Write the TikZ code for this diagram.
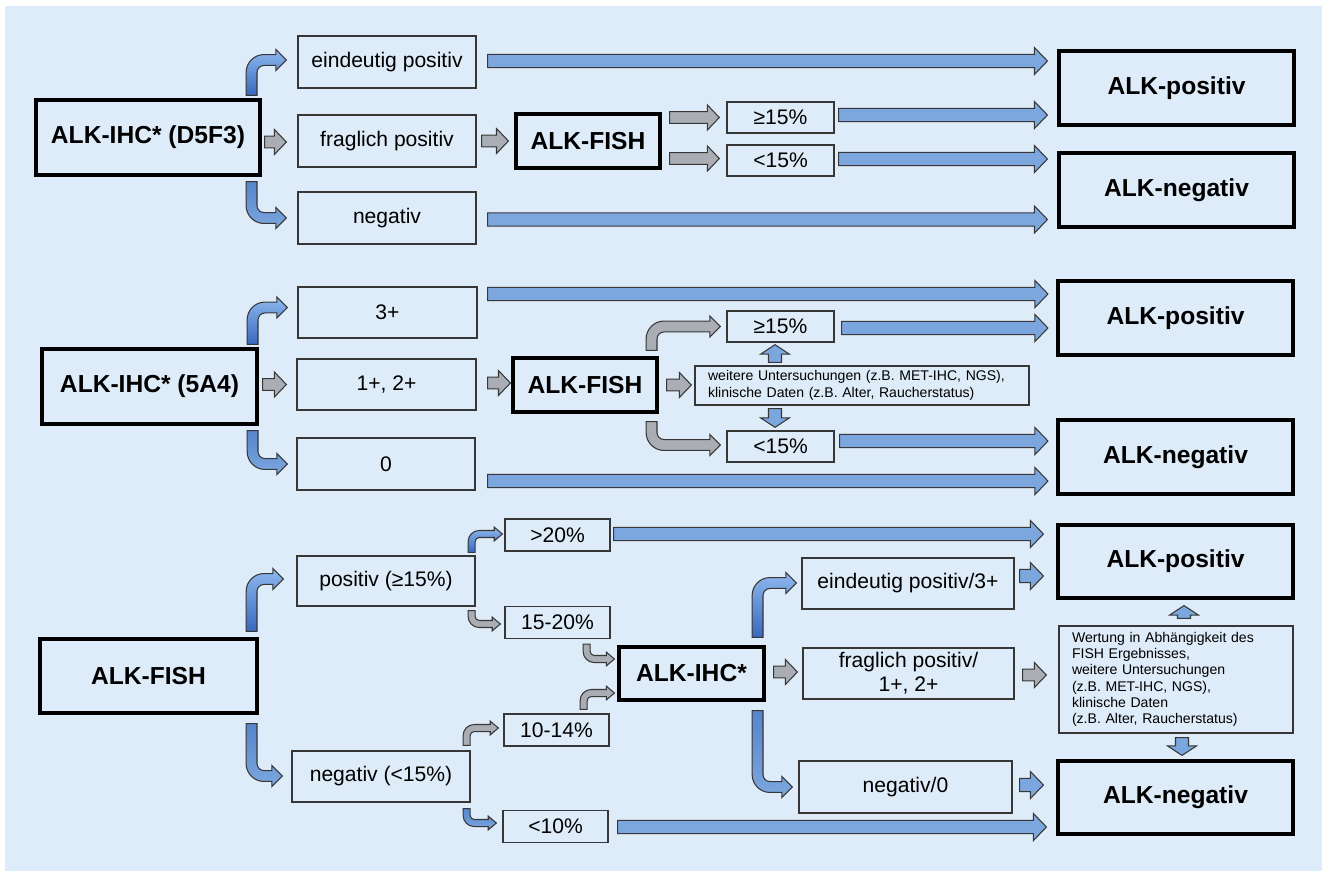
\documentclass[tikz,border=0pt]{standalone}
\usepackage{fontspec}
\setmainfont{Liberation Sans}
\usepackage{xcolor}
\usepackage{tikz}
\usetikzlibrary{calc}
\definecolor{panelBlue}{RGB}{222,235,248}
\definecolor{arrowBlue}{RGB}{124,167,222}
\definecolor{arrowLight}{RGB}{142,184,238}
\definecolor{arrowDark}{RGB}{56,104,190}
\definecolor{arrowGrey}{RGB}{170,174,180}
\definecolor{edgeGrey}{RGB}{55,55,55}

\tikzset{
  arrowdims/.code n args={5}{\def\ahs{#1}\def\ahh{#2}\def\ahl{#3}\def\ahr{#4}\def\ahR{#5}},
  plainbox/.style={draw=edgeGrey, line width=0.75pt, fill=panelBlue, inner sep=0pt,
    font=\fontsize{12}{13.7}\selectfont, align=center},
  resultbox/.style={plainbox, draw=black, line width=1.8pt, font=\fontsize{14}{16}\selectfont\bfseries},
  notebox/.style={plainbox, align=left, inner xsep=0.26cm, font=\fontsize{8}{9.3}\selectfont},
  blue arrow/.style={draw=edgeGrey, line width=0.6pt, fill=arrowBlue, arrowdims={3.8pt}{7.7pt}{7.4pt}{0pt}{0pt}},
  grey arrow/.style={draw=edgeGrey, line width=0.6pt, fill=arrowGrey, arrowdims={3.3pt}{7.1pt}{6.8pt}{0pt}{0pt}},
  vert arrow/.style={draw=edgeGrey, line width=0.6pt, fill=arrowBlue, arrowdims={3.7pt}{8.2pt}{5.4pt}{0pt}{0pt}},
  bend up/.style={draw=edgeGrey, line width=0.6pt, top color=arrowLight, bottom color=arrowDark},
  bend down/.style={draw=edgeGrey, line width=0.6pt, top color=arrowDark!55!arrowBlue, bottom color=arrowBlue},
  bend grey/.style={draw=edgeGrey, line width=0.6pt, fill=arrowGrey},
  big bend/.style={arrowdims={3.1pt}{6pt}{6pt}{4pt}{10.2pt}},
  small bend/.style={arrowdims={2pt}{3.9pt}{4.6pt}{2.3pt}{6.3pt}},
}

\newcommand{\blockarrow}[3][]{%
  \draw[#1] let \p1=#2, \p2=#3 in
    (\x1,\y1+\ahs) -- (\x2-\ahl,\y1+\ahs) -- (\x2-\ahl,\y1+\ahh) -- (\x2,\y1)
    -- (\x2-\ahl,\y1-\ahh) -- (\x2-\ahl,\y1-\ahs) -- (\x1,\y1-\ahs) -- cycle;}
\newcommand{\vblockarrow}[3][]{%
  \draw[#1] let \p1=#2, \p2=#3, \n1={sign(\y2-\y1)} in
    ({\x1+\ahs},\y1) -- ({\x1+\ahs},{\y2-(\n1)*\ahl}) -- ({\x1+\ahh},{\y2-(\n1)*\ahl}) -- (\x1,\y2)
    -- ({\x1-\ahh},{\y2-(\n1)*\ahl}) -- ({\x1-\ahs},{\y2-(\n1)*\ahl}) -- ({\x1-\ahs},\y1) -- cycle;}
\newcommand{\bendarrow}[3][]{%
  \draw[#1] let \p1=#2, \p2=#3, \n1={sign(\y2-\y1)} in
    ({\x1-\ahs},\y1) -- ({\x1-\ahs},{\y2+(\n1)*\ahs-(\n1)*\ahR})
    arc[start angle=180, end angle={180-(\n1)*90}, radius=\ahR]
    -- ({\x2-\ahl},{\y2+(\n1)*\ahs}) -- ({\x2-\ahl},{\y2+(\n1)*\ahh}) -- (\x2,\y2)
    -- ({\x2-\ahl},{\y2-(\n1)*\ahh}) -- ({\x2-\ahl},{\y2-(\n1)*\ahs})
    -- ({\x1+\ahs+\ahr},{\y2-(\n1)*\ahs})
    arc[start angle={180-(\n1)*90}, end angle=180, radius=\ahr]
    -- ({\x1+\ahs},\y1) -- cycle;}

\begin{document}
\begin{tikzpicture}[x=0.02cm, y=0.02cm]
\useasboundingbox (0,0) rectangle (1326,-877);
\fill[panelBlue] (5,-6) rectangle (1322,-871);

\begin{scope}
  \node[resultbox, minimum width=4.48cm, minimum height=1.5cm] (ihcA) at (148,-137.5) {ALK-IHC* (D5F3)};
  \node[plainbox, minimum width=3.56cm, minimum height=1.04cm] (epA) at (387,-62) {eindeutig positiv};
  \node[plainbox, minimum width=3.56cm, minimum height=1.04cm] (fpA) at (387,-141) {fraglich positiv};
  \node[plainbox, minimum width=3.56cm, minimum height=1.04cm] (ngA) at (387,-218) {negativ};
  \node[resultbox, minimum width=2.88cm, minimum height=1.08cm] (fishA) at (588,-141) {ALK-FISH};
  \node[plainbox, minimum width=2.14cm, minimum height=0.62cm] (hiA) at (780.5,-117.5) {≥15\%};
  \node[plainbox, minimum width=2.14cm, minimum height=0.62cm] (loA) at (780.5,-160.5) {<15\%};
  \node[resultbox, minimum width=4.7cm, minimum height=1.48cm] (posA) at (1176.5,-88) {ALK-positiv};
  \node[resultbox, minimum width=4.7cm, minimum height=1.48cm] (negA) at (1176.5,-190) {ALK-negativ};

  \bendarrow[bend up, big bend]{($(ihcA.north east)+(-10,3)$)}{($(epA.west)+(-11,2)$)}
  \bendarrow[bend down, big bend]{($(ihcA.south east)+(-10,-5)$)}{($(ngA.west)+(-11,0)$)}
  \blockarrow[grey arrow]{($(ihcA.east |- fpA.west)+(3,-1)$)}{($(fpA.west)+(-11,0)$)}
  \blockarrow[grey arrow]{($(fpA.east)+(5,0)$)}{($(fishA.west)+(-6,0)$)}
  \blockarrow[grey arrow]{($(fishA.east |- hiA.west)+(8,0)$)}{($(hiA.west)+(-7,0)$)}
  \blockarrow[grey arrow]{($(fishA.east |- loA.west)+(8,2)$)}{($(loA.west)+(-7,0)$)}
  \blockarrow[blue arrow]{($(epA.east)+(11,1)$)}{($(posA.west)+(-10,0)$)}
  \blockarrow[blue arrow]{($(hiA.east)+(4,2.5)$)}{($(posA.west)+(-10,0)$)}
  \blockarrow[blue arrow]{($(loA.east)+(4,1.5)$)}{($(negA.west)+(-10,0)$)}
  \blockarrow[blue arrow]{($(ngA.east)+(11,-1.5)$)}{($(negA.west)+(-10,0)$)}
\end{scope}

\begin{scope}
  \node[resultbox, minimum width=4.3cm, minimum height=1.5cm] (ihcB) at (149.5,-386.5) {ALK-IHC* (5A4)};
  \node[plainbox, minimum width=3.58cm, minimum height=1.02cm] (tpB) at (387.5,-312.5) {3+};
  \node[plainbox, minimum width=3.58cm, minimum height=1.02cm] (mpB) at (386.5,-384.5) {1+, 2+};
  \node[plainbox, minimum width=3.56cm, minimum height=1.04cm] (zB) at (386,-464) {0};
  \node[resultbox, minimum width=2.88cm, minimum height=1.08cm] (fishB) at (585,-385) {ALK-FISH};
  \node[plainbox, minimum width=2.14cm, minimum height=0.62cm] (hiB) at (780.5,-326.5) {≥15\%};
  \node[notebox, text width=6.16cm, minimum height=0.78cm] (furtherB) at (862,-385.5)
    {weitere Untersuchungen (z.B. MET-IHC, NGS),\\klinische Daten (z.B. Alter, Raucherstatus)};
  \node[plainbox, minimum width=2.14cm, minimum height=0.62cm] (loB) at (780.5,-446.5) {<15\%};
  \node[resultbox, minimum width=4.7cm, minimum height=1.48cm] (posB) at (1175.5,-318) {ALK-positiv};
  \node[resultbox, minimum width=4.7cm, minimum height=1.48cm] (negB) at (1175.5,-457) {ALK-negativ};

  \bendarrow[bend up, big bend]{($(ihcB.north east)+(-6,3)$)}{($(tpB.west)+(-10,5)$)}
  \bendarrow[bend down, big bend]{($(ihcB.south east)+(-6,-5)$)}{($(zB.west)+(-9,0)$)}
  \blockarrow[grey arrow]{($(ihcB.east |- mpB.west)+(4,0)$)}{($(mpB.west)+(-10,0)$)}
  \blockarrow[grey arrow]{($(mpB.east)+(11,1.5)$)}{($(fishB.west)+(-1,0)$)}
  \blockarrow[grey arrow]{($(fishB.east)+(8,0)$)}{($(furtherB.west)+(-3,0)$)}
  \bendarrow[bend grey, big bend]{($(fishB.north east)+(-7,6)$)}{($(hiB.west)+(-6,0)$)}
  \bendarrow[bend grey, big bend]{($(fishB.south east)+(-7,-8)$)}{($(loB.west)+(-6,1.5)$)}
  \vblockarrow[vert arrow]{($(furtherB.north)+(-87,3)$)}{($(hiB.south)+(0,-2)$)}
  \vblockarrow[vert arrow]{($(furtherB.south)+(-87,-3)$)}{($(loB.north)+(0,3)$)}
  \blockarrow[blue arrow]{($(tpB.east)+(10,18.5)$)}{($(posB.west)+(-8.5,0)$)}
  \blockarrow[blue arrow]{($(hiB.east)+(7,-1.5)$)}{($(posB.west)+(-8.5,0)$)}
  \blockarrow[blue arrow]{($(loB.east)+(5,5.5)$)}{($(negB.west)+(-8.5,0)$)}
  \blockarrow[blue arrow]{($(zB.east)+(12,-17)$)}{($(negB.west)+(-8.5,0)$)}
\end{scope}

\begin{scope}
  \node[resultbox, minimum width=4.34cm, minimum height=1.48cm] (fishC) at (148.5,-676) {ALK-FISH};
  \node[plainbox, minimum width=3.56cm, minimum height=1cm] (posC) at (386,-581) {positiv (≥15\%)};
  \node[plainbox, minimum width=3.56cm, minimum height=1.02cm] (negC) at (381,-776.5) {negativ (<15\%)};
  \node[plainbox, minimum width=2.1cm, minimum height=0.64cm] (gt20) at (557.5,-535) {>20\%};
  \node[plainbox, minimum width=2.1cm, minimum height=0.64cm] (r1520) at (557.5,-622.5) {15-20\%};
  \node[plainbox, minimum width=2.1cm, minimum height=0.64cm] (r1014) at (556.5,-730) {10-14\%};
  \node[plainbox, minimum width=2.1cm, minimum height=0.64cm] (lt10) at (555.5,-826.5) {<10\%};
  \node[resultbox, minimum width=2.9cm, minimum height=1.06cm] (ihcC) at (691.5,-673.5) {ALK-IHC*};
  \node[plainbox, minimum width=4.24cm, minimum height=1.02cm] (epC) at (908,-583.5) {eindeutig positiv/3+};
  \node[plainbox, minimum width=4.22cm, minimum height=1.02cm] (fpC) at (908.5,-673.5) {fraglich positiv/\\1+, 2+};
  \node[plainbox, minimum width=4.26cm, minimum height=1.04cm] (ngC) at (905.5,-787) {negativ/0};
  \node[resultbox, minimum width=4.7cm, minimum height=1.46cm] (posC2) at (1175.5,-561.5) {ALK-positiv};
  \node[notebox, text width=4.16cm, minimum height=2.14cm] (wertC) at (1176,-679.5)
    {Wertung in Abhängigkeit des\\FISH Ergebnisses,\\weitere Untersuchungen\\(z.B. MET-IHC, NGS),\\klinische Daten\\(z.B. Alter, Raucherstatus)};
  \node[resultbox, minimum width=4.7cm, minimum height=1.46cm] (negC2) at (1175.5,-797.5) {ALK-negativ};

  \bendarrow[bend up, big bend]{($(fishC.north east)+(-7,6)$)}{($(posC.west)+(-13,2)$)}
  \bendarrow[bend down, big bend]{($(fishC.south east)+(-7,-9)$)}{($(negC.west)+(-9,0.5)$)}
  \bendarrow[bend up, small bend]{($(posC.north east)+(-4,3)$)}{($(gt20.west)+(-2,1)$)}
  \bendarrow[bend grey, small bend]{($(posC.south east)+(-4,-4)$)}{($(r1520.west)+(-4,-1.5)$)}
  \bendarrow[bend grey, small bend]{($(r1520.south east)+(-24,-5)$)}{($(ihcC.west)+(-3,14.5)$)}
  \bendarrow[bend grey, small bend]{($(r1014.north east)+(-26,4)$)}{($(ihcC.west)+(-3,-19.5)$)}
  \bendarrow[bend grey, small bend]{($(negC.north east)+(-4,5)$)}{($(r1014.west)+(-5,2)$)}
  \bendarrow[bend down, small bend]{($(negC.south east)+(-4,-6)$)}{($(lt10.west)+(-6,3.5)$)}
  \blockarrow[blue arrow]{($(gt20.east)+(3,1)$)}{($(posC2.west)+(-13,0)$)}
  \blockarrow[blue arrow]{($(lt10.east)+(9,-0.5)$)}{($(negC2.west)+(-10,0)$)}
  \bendarrow[bend up, big bend]{($(ihcC.north east)+(-8,8)$)}{($(epC.west)+(-5,0.5)$)}
  \bendarrow[bend down, big bend]{($(ihcC.south east)+(-8,-9)$)}{($(ngC.west)+(-6,0)$)}
  \blockarrow[grey arrow]{($(ihcC.east)+(8,1.5)$)}{($(fpC.west)+(-5,0)$)}
  \blockarrow[blue arrow]{($(epC.east)+(5,7.5)$)}{($(posC2.west)+(-13,0)$)}
  \blockarrow[grey arrow]{($(fpC.east)+(8,-1.5)$)}{($(wertC.west)+(-12,0)$)}
  \blockarrow[blue arrow]{($(ngC.east)+(7,2)$)}{($(negC2.west)+(-13,0)$)}
  \vblockarrow[vert arrow]{($(wertC.north)+(8,7)$)}{($(posC2.south)+(0,-6)$)}
  \vblockarrow[vert arrow]{($(wertC.south)+(6,-4)$)}{($(negC2.north)+(0,4)$)}
\end{scope}
\end{tikzpicture}
\end{document}
